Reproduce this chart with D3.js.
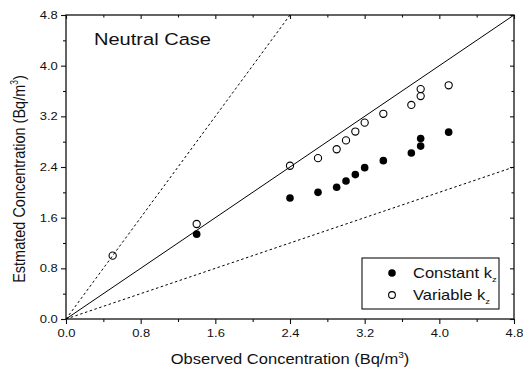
<!DOCTYPE html>
<html>
<head>
<meta charset="utf-8">
<script src="https://cdn.jsdelivr.net/npm/d3@7"></script>
<style>
  html, body { margin: 0; padding: 0; background: #fff; }
  svg { display: block; font-family: "Liberation Sans", Arial, sans-serif; }
</style>
</head>
<body>
<svg id="chart" width="523" height="372"></svg>
<script>
// ---- data ----
const constantX = [1.4, 2.4, 2.7, 2.9, 3.0, 3.1, 3.2, 3.4, 3.7, 3.8, 3.8, 4.1];
const constantY = [1.34, 1.91, 2.0, 2.08, 2.18, 2.28, 2.39, 2.50, 2.62, 2.73, 2.85, 2.95];
const variableX = [0.5, 1.4, 2.4, 2.7, 2.9, 3.0, 3.1, 3.2, 3.4, 3.7, 3.8, 3.8, 4.1];
const variableY = [1.0, 1.50, 2.42, 2.54, 2.68, 2.82, 2.96, 3.10, 3.24, 3.38, 3.52, 3.63, 3.69];
const majorTicks = [0.0, 0.8, 1.6, 2.4, 3.2, 4.0, 4.8];
const minorTicks = [0.4, 1.2, 2.0, 2.8, 3.6, 4.4];
const refSlopes = [1, 2, 0.5];   // 1:1 line, factor-of-two lines
const chartTitle = "Neutral Case";

(function () {
// ---- layout ----
const svg = d3.select("#chart");
const pL = 66, pR = 514, pT = 15, pB = 319;
const SX = 1.18; // horizontal text stretch of the original figure
const x = d3.scaleLinear().domain([0, 4.8]).range([pL, pR]);
const y = d3.scaleLinear().domain([0, 4.8]).range([pB, pT]);
const fmt = d3.format(".1f");
const ink = "#111";

// frame
svg.append("rect").attr("x", pL).attr("y", pT)
  .attr("width", pR - pL).attr("height", pB - pT)
  .attr("fill", "none").attr("stroke", ink).attr("stroke-width", 1.3);

// axes
function styleAxis(g) {
  g.select(".domain").remove();
  g.selectAll("line").attr("stroke", ink).attr("stroke-width", 1.1);
  g.selectAll("text").attr("fill", ink).attr("font-size", 11)
    .attr("font-family", "Liberation Sans, Arial, sans-serif")
    .attr("transform", `scale(${SX},1)`);
}
svg.append("g").attr("transform", `translate(0,${pB})`)
  .call(d3.axisBottom(x).tickValues(majorTicks).tickFormat(fmt).tickSize(5).tickPadding(5)).call(styleAxis);
svg.append("g").attr("transform", `translate(0,${pB})`)
  .call(d3.axisBottom(x).tickValues(minorTicks).tickFormat("").tickSize(3)).call(styleAxis);

svg.append("g").attr("transform", `translate(${pL},0)`)
  .call(d3.axisLeft(y).tickValues(majorTicks).tickFormat(fmt).tickSize(5).tickPadding(2)).call(styleAxis);
svg.append("g").attr("transform", `translate(${pL},0)`)
  .call(d3.axisLeft(y).tickValues(minorTicks).tickFormat("").tickSize(3)).call(styleAxis);

// top & right: inward ticks
svg.append("g").attr("transform", `translate(0,${pT})`)
  .call(d3.axisBottom(x).tickValues(majorTicks).tickFormat("").tickSize(4)).call(styleAxis);
svg.append("g").attr("transform", `translate(0,${pT})`)
  .call(d3.axisBottom(x).tickValues(minorTicks).tickFormat("").tickSize(2.5)).call(styleAxis);
svg.append("g").attr("transform", `translate(${pR},0)`)
  .call(d3.axisLeft(y).tickValues(majorTicks).tickFormat("").tickSize(4)).call(styleAxis);
svg.append("g").attr("transform", `translate(${pR},0)`)
  .call(d3.axisLeft(y).tickValues(minorTicks).tickFormat("").tickSize(2.5)).call(styleAxis);

// clip for reference lines
svg.append("clipPath").attr("id", "clip").append("rect")
  .attr("x", pL).attr("y", pT).attr("width", pR - pL).attr("height", pB - pT);

// points
svg.append("g").selectAll("circle").data(constantX.map((d, i) => [d, constantY[i]]))
  .join("circle").attr("cx", d => x(d[0])).attr("cy", d => y(d[1])).attr("r", 3.8)
  .attr("fill", "#000");
svg.append("g").selectAll("circle").data(variableX.map((d, i) => [d, variableY[i]]))
  .join("circle").attr("cx", d => x(d[0])).attr("cy", d => y(d[1])).attr("r", 3.6)
  .attr("fill", "none").attr("stroke", "#000").attr("stroke-width", 1.1);

// reference lines
const lineG = svg.append("g").attr("clip-path", "url(#clip)");
refSlopes.forEach(s => {
  const xEnd = Math.min(4.8, 4.8 / s);
  lineG.append("line")
    .attr("x1", x(0)).attr("y1", y(0))
    .attr("x2", x(xEnd)).attr("y2", y(xEnd * s))
    .attr("stroke", "#000").attr("stroke-width", 1)
    .attr("stroke-dasharray", s === 1 ? null : "2.5,2.5");
});

// title text
svg.append("text").attr("transform", `translate(94,45) scale(${SX},1)`)
  .attr("font-size", 17).attr("fill", ink).text(chartTitle);

// axis titles
const xt = svg.append("text").attr("transform", `translate(${(pL + pR) / 2},364) scale(${SX},1)`)
  .attr("text-anchor", "middle").attr("font-size", 14).attr("fill", ink);
xt.append("tspan").text("Observed Concentration (Bq/m");
xt.append("tspan").attr("font-size", 8.5).attr("dy", -6).text("3");
xt.append("tspan").attr("dy", 6).text(")");

const yt = svg.append("text").attr("transform", `translate(25,179) scale(${SX},1) rotate(-90)`)
  .attr("text-anchor", "middle").attr("font-size", 14.5).attr("fill", ink);
yt.append("tspan").text("Estmated Concentration (Bq/m");
yt.append("tspan").attr("font-size", 8.5).attr("dy", -6).text("3");
yt.append("tspan").attr("dy", 6).text(")");

// legend
const lg = svg.append("g");
lg.append("rect").attr("x", 362).attr("y", 258).attr("width", 137).attr("height", 51)
  .attr("fill", "#fff").attr("stroke", ink).attr("stroke-width", 1.1);
const legendItems = [
  {label: "Constant k", filled: true},
  {label: "Variable k", filled: false}
];
legendItems.forEach((it, i) => {
  const cy = 273 + i * 22;
  lg.append("circle").attr("cx", 392).attr("cy", cy).attr("r", it.filled ? 3.8 : 3.4)
    .attr("fill", it.filled ? "#000" : "none").attr("stroke", "#000").attr("stroke-width", it.filled ? 0 : 1.1);
  const t = lg.append("text").attr("transform", `translate(413,${cy + 5}) scale(${SX},1)`)
    .attr("font-size", 14).attr("fill", ink);
  t.append("tspan").text(it.label);
  t.append("tspan").attr("font-size", 8).attr("dy", 4).text("z");
});
})();
</script>
</body>
</html>
